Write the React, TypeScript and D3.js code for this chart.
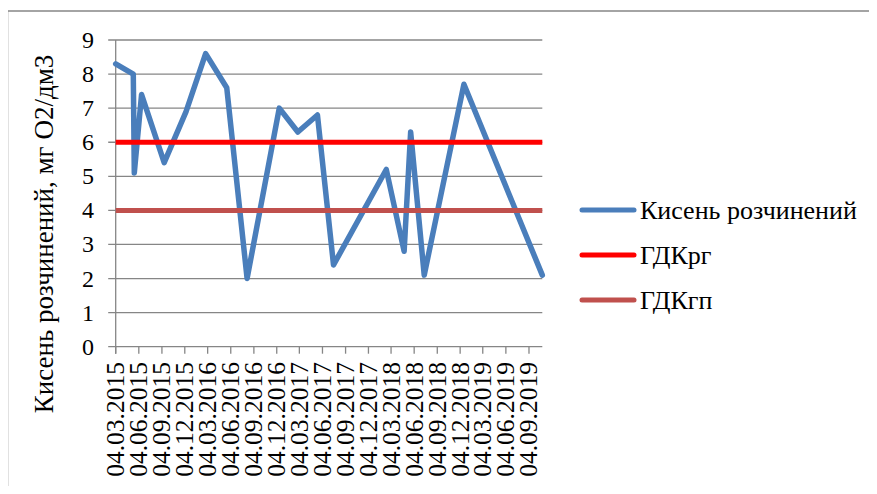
import React from "react";
import * as d3 from "d3";

// Sampling dates and dissolved oxygen values, mg O2/dm3
const sampleDates = [
  "04.03.2015", "13.05.2015", "17.05.2015", "15.06.2015", "13.09.2015",
  "09.12.2015", "25.02.2016", "19.05.2016", "08.08.2016", "14.12.2016",
  "26.02.2017", "15.05.2017", "18.07.2017", "13.02.2018", "25.04.2018",
  "21.05.2018", "14.07.2018", "19.12.2018", "27.10.2019",
];
const oxygen = [
  8.3, 8.0, 5.1, 7.4, 5.4, 6.9, 8.6, 7.6, 2.0, 7.0,
  6.3, 6.8, 2.4, 5.2, 2.8, 6.3, 2.1, 7.7, 2.1,
];

// Limit values
const limitRg = 6;
const limitGp = 4;

const xTickLabels = [
  "04.03.2015", "04.06.2015", "04.09.2015", "04.12.2015", "04.03.2016",
  "04.06.2016", "04.09.2016", "04.12.2016", "04.03.2017", "04.06.2017",
  "04.09.2017", "04.12.2017", "04.03.2018", "04.06.2018", "04.09.2018",
  "04.12.2018", "04.03.2019", "04.06.2019", "04.09.2019",
];
const yTicks = [0, 1, 2, 3, 4, 5, 6, 7, 8, 9];

const seriesNames = ["Кисень розчинений", "ГДКрг", "ГДКгп"];
const seriesColors = ["#4a7ebb", "#ff0000", "#c0504d"];

const parseDate = d3.utcParse("%d.%m.%Y");

const W = 877;
const H = 494;
const plot = { left: 115.7, right: 542.3, top: 40, bottom: 346.7 };
const FONT = "Times New Roman";

export default function App() {
  const dates = sampleDates.map((s) => parseDate(s) as Date);
  const x = d3
    .scaleUtc()
    .domain([dates[0], dates[dates.length - 1]])
    .range([plot.left, plot.right]);
  const y = d3.scaleLinear().domain([0, 9]).range([plot.bottom, plot.top]);

  const points: [Date, number][] = dates.map((d, i) => [d, oxygen[i]]);
  const line = d3
    .line<[Date, number]>()
    .x((d) => x(d[0]))
    .y((d) => y(d[1]));

  const first = dates[0];
  const last = dates[dates.length - 1];
  const limitLines = [limitRg, limitGp].map(
    (v) => [[first, v], [last, v]] as [Date, number][]
  );

  const tickDates = xTickLabels.map((s) => parseDate(s) as Date);
  const gridColor = "#868686";

  return (
    <div style={{ margin: -8 }}>
      <svg width={W} height={H} style={{ display: "block" }}>
        {/* chart frame */}
        <line x1={7.5} y1={11} x2={W} y2={11} stroke={gridColor} strokeWidth={1.5} />
        <line x1={7.5} y1={11} x2={7.5} y2={H} stroke={gridColor} strokeWidth={1.5} />

        {/* horizontal gridlines and y ticks */}
        {yTicks.map((t) => (
          <g key={t}>
            <line
              x1={plot.left - 7.5}
              x2={plot.right}
              y1={y(t)}
              y2={y(t)}
              stroke={gridColor}
              strokeWidth={1.3}
            />
            <text
              x={94}
              y={y(t) + 8}
              textAnchor="end"
              fontFamily={FONT}
              fontSize={24}
            >
              {t}
            </text>
          </g>
        ))}

        {/* y axis */}
        <line
          x1={plot.left}
          x2={plot.left}
          y1={plot.top}
          y2={plot.bottom + 7}
          stroke={gridColor}
          strokeWidth={1.3}
        />

        {/* x ticks and labels */}
        {tickDates.map((d, i) => (
          <g key={xTickLabels[i]}>
            <line
              x1={x(d)}
              x2={x(d)}
              y1={plot.bottom}
              y2={plot.bottom + 7}
              stroke={gridColor}
              strokeWidth={1.3}
            />
            <text
              transform={`translate(${x(d) + 8.5},${362}) rotate(-90)`}
              textAnchor="end"
              fontFamily={FONT}
              fontSize={25.5}
            >
              {xTickLabels[i]}
            </text>
          </g>
        ))}

        {/* series */}
        <path
          d={line(points) ?? ""}
          fill="none"
          stroke={seriesColors[0]}
          strokeWidth={5.5}
          strokeLinejoin="round"
          strokeLinecap="round"
        />
        {limitLines.map((pts, i) => (
          <path
            key={i}
            d={line(pts) ?? ""}
            fill="none"
            stroke={seriesColors[i + 1]}
            strokeWidth={5}
          />
        ))}

        {/* y axis title */}
        <text
          transform={`translate(53,234) rotate(-90)`}
          textAnchor="middle"
          fontFamily={FONT}
          fontSize={27}
        >
          Кисень розчинений, мг О2/дм3
        </text>

        {/* legend */}
        {seriesNames.map((name, i) => (
          <g key={name} transform={`translate(580,${210 + i * 45})`}>
            <line
              x1={2}
              x2={54}
              y1={0}
              y2={0}
              stroke={seriesColors[i]}
              strokeWidth={5}
              strokeLinecap="round"
            />
            <text x={60} y={9} fontFamily={FONT} fontSize={26}>
              {name}
            </text>
          </g>
        ))}
      </svg>
    </div>
  );
}
